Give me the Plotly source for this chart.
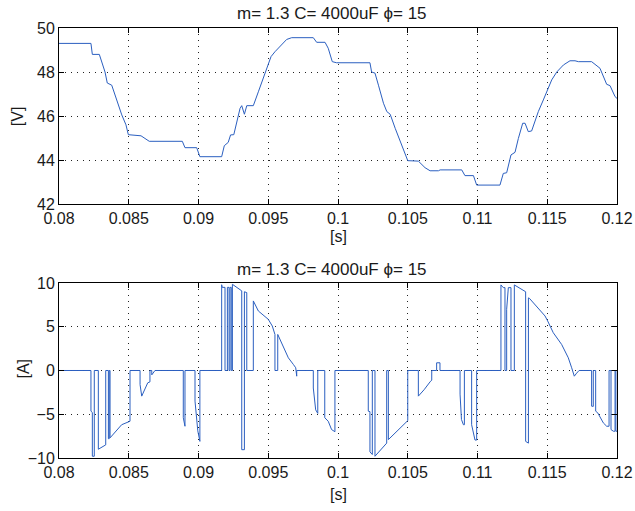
import plotly.graph_objects as go
from plotly.subplots import make_subplots

# Capacitor voltage [V] over time [s]
t_volt = [0.0800, 0.08229, 0.08239, 0.08289, 0.0833, 0.08346, 0.08378, 0.0845, 0.0848,
          0.08497, 0.08588, 0.08647, 0.08884, 0.08903, 0.08987, 0.0901, 0.09166, 0.09185,
          0.09213, 0.0923, 0.09253, 0.09274, 0.09298, 0.0931, 0.09329, 0.09346, 0.09393,
          0.09429, 0.09465, 0.09489, 0.0952, 0.09548, 0.09572, 0.096, 0.09632, 0.09668,
          0.09823, 0.09847, 0.09907, 0.0993, 0.09959, 0.0999, 0.10229, 0.10241, 0.10265,
          0.1029, 0.10326, 0.1035, 0.10374, 0.1041, 0.10446, 0.1047, 0.105, 0.10576,
          0.10624, 0.1066, 0.1072, 0.10732, 0.10887, 0.1091, 0.10971, 0.10994, 0.11161,
          0.11185, 0.11209, 0.1124, 0.11269, 0.11293, 0.11324, 0.11341, 0.11364, 0.11388,
          0.11412, 0.11436, 0.11472, 0.11496, 0.11532, 0.11568, 0.11616, 0.11663, 0.11699,
          0.11723, 0.11818, 0.11878, 0.11926, 0.1195, 0.11986, 0.1200]
volt = [49.3, 49.3, 48.8, 48.8, 48.0, 47.5, 47.4, 46.05, 45.6,
        45.15, 45.1, 44.85, 44.85, 44.56, 44.56, 44.15, 44.15, 44.65,
        44.8, 45.14, 45.15, 45.74, 46.35, 46.47, 46.08, 46.47, 46.47,
        47.1, 47.7, 48.17, 48.7, 48.92, 49.08, 49.3, 49.48, 49.56,
        49.56, 49.35, 49.35, 49.08, 48.47, 48.42, 48.42, 48.0, 47.95,
        47.4, 46.58, 46.2, 46.08, 45.44, 44.83, 44.38, 43.97, 43.95,
        43.65, 43.51, 43.51, 43.55, 43.55, 43.29, 43.29, 42.86, 42.86,
        43.39, 43.42, 44.23, 44.35, 44.98, 45.67, 45.67, 45.29, 45.32,
        45.74, 46.2, 46.73, 47.1, 47.64, 48.0, 48.32, 48.51, 48.51,
        48.47, 48.47, 48.17, 47.44, 47.38, 46.88, 46.8]

# Capacitor current [A] over time [s]
t_curr = [0.0800,
          0.08229, 0.08229, 0.08239, 0.08239, 0.08253, 0.08253,
          0.08282, 0.08282, 0.08335, 0.08335,
          0.08354, 0.08354, 0.0836, 0.0836, 0.08366, 0.08366, 0.08449, 0.08509, 0.08509,
          0.08581, 0.08581, 0.08593, 0.08636, 0.08652, 0.08652, 0.08665, 0.08665, 0.08688,
          0.08891, 0.08891, 0.08903, 0.08903,
          0.08975, 0.08975, 0.08995, 0.0901, 0.0901,
          0.09166, 0.09166, 0.0917, 0.0919, 0.0919, 0.09207, 0.09207, 0.09219, 0.09219,
          0.09226, 0.09226, 0.09235, 0.09235, 0.09243, 0.09243, 0.0931, 0.0931, 0.09329,
          0.09329, 0.09346, 0.09346,
          0.09393, 0.09393, 0.09429, 0.095, 0.09529, 0.09548, 0.09548, 0.09568, 0.09568,
          0.09608, 0.09644, 0.0968, 0.09697, 0.09704, 0.09704,
          0.09823, 0.09823, 0.0984, 0.09855, 0.09855,
          0.09905, 0.09905, 0.0993, 0.09954, 0.09972, 0.09978, 0.09978,
          0.10217, 0.10217, 0.10229, 0.10229, 0.10246, 0.10246, 0.10265, 0.10265, 0.10349,
          0.10349, 0.10361, 0.10361, 0.10421, 0.105, 0.105,
          0.10576, 0.10576, 0.10617, 0.1066, 0.10672, 0.10672, 0.10707, 0.10707, 0.10731,
          0.10731,
          0.10875, 0.10875, 0.10885, 0.10899, 0.10906, 0.10906,
          0.10958, 0.10958, 0.10982, 0.10994, 0.10994,
          0.11168, 0.11168, 0.11185, 0.11197, 0.11197, 0.11209, 0.11209, 0.11221, 0.1124,
          0.1124, 0.11264, 0.11264, 0.11345, 0.11345, 0.11365, 0.11365, 0.11372,
          0.11484, 0.11503, 0.11543, 0.11603, 0.11651, 0.11675, 0.11694, 0.11711, 0.11728,
          0.11818, 0.11818, 0.1183, 0.1183, 0.11847, 0.11847, 0.11862, 0.11902, 0.11926,
          0.11943, 0.11943, 0.11957, 0.11957, 0.11974, 0.11986, 0.11986, 0.11992, 0.11992,
          0.1200]
curr = [0.0,
        0.0, -4.65, -4.8, -9.8, -9.8, 0.0,
        0.0, -9.0, -8.5, 0.0,
        0.0, -7.8, -7.8, 0.0, 0.0, -7.7, -6.2, -5.8, 0.0,
        0.0, -1.6, -2.93, -1.41, -1.3, 0.0, 0.0, -0.5, 0.0,
        0.0, -5.4, -6.37, 0.0,
        0.0, -3.5, -6.9, -8.1, 0.0,
        0.0, 9.8, 9.5, 9.5, 0.0, 0.0, 9.5, 9.5, 0.0,
        0.0, 9.5, 9.5, 0.0, 0.0, 9.85, 9.1, -9.05, -9.05,
        9.0, 8.9, 0.0,
        0.0, 7.95, 6.8, 5.85, 5.08, 4.12, 0.0, 0.0, 4.12,
        2.79, 1.45, 0.69, 0.31, -0.65, 0.0,
        0.0, -2.0, -4.5, -4.9, 0.0,
        0.0, -5.4, -5.8, -6.75, -7.0, -7.0, 0.0,
        0.0, -4.65, -4.7, -9.3, -9.6, 0.0, 0.0, -9.8, -8.3,
        0.0, 0.0, -7.9, -6.94, -5.73, 0.0,
        0.0, -2.93, -2.2, -1.3, -1.1, 0.0, 0.0, 0.88, 0.88,
        0.0,
        0.0, -2.7, -5.6, -6.2, -6.2, 0.0,
        0.0, -6.2, -7.95, -7.95, 0.0,
        0.0, 9.78, 9.47, 9.47, 0.0, 0.0, 7.0, 9.47, 9.47,
        0.0, 0.0, 9.78, 9.0, -8.1, -8.3, 8.3, 8.25,
        6.23, 5.66, 4.32, 2.98, 1.45, 0.31, -0.65, -0.3, 0.0,
        0.0, -4.08, -4.1, 0.0, 0.0, -4.65, -4.84, -5.99, -6.37,
        -6.37, 0.0, 0.0, -6.75, -6.94, -6.94, 0.0, 0.0, -6.94,
        -6.94]

x_ticks = [0.08, 0.085, 0.09, 0.095, 0.1, 0.105, 0.11, 0.115, 0.12]
x_tick_text = ["0.08", "0.085", "0.09", "0.095", "0.1", "0.105", "0.11", "0.115", "0.12"]
v_ticks = [42, 44, 46, 48, 50]
i_ticks = [-10, -5, 0, 5, 10]

title_text = "m= 1.3 C= 4000uF \u03d5= 15"

FONT = "Liberation Sans, Arial, Helvetica, sans-serif"
LINE_BLUE = "#2b5fc0"
TEXT_COLOR = "#1a1a1a"

fig = make_subplots(rows=2, cols=1, vertical_spacing=0.0)

fig.add_trace(go.Scatter(x=t_volt, y=volt, mode="lines",
                         line=dict(color=LINE_BLUE, width=1), showlegend=False),
              row=1, col=1)
fig.add_trace(go.Scatter(x=t_curr, y=curr, mode="lines",
                         line=dict(color=LINE_BLUE, width=1), showlegend=False),
              row=2, col=1)

axis_common = dict(
    automargin=False,
    showline=True, linecolor="#000000", linewidth=1, mirror="allticks",
    ticks="inside", ticklen=5, tickcolor="#000000", tickwidth=1,
    showgrid=True, gridcolor="#222222", gridwidth=1, griddash="1px,5px",
    zeroline=False, tickfont=dict(family=FONT, size=16, color=TEXT_COLOR),
)

fig.update_xaxes(range=[0.08, 0.12], tickvals=x_ticks, ticktext=x_tick_text,
                 **axis_common)
fig.update_yaxes(**axis_common)
fig.update_yaxes(range=[42, 50], tickvals=v_ticks, row=1, col=1)
fig.update_yaxes(range=[-10, 10], tickvals=i_ticks, row=2, col=1)

fig.update_layout(
    template="none",
    width=635, height=511,
    margin=dict(l=59, r=18, t=28, b=53, pad=0),
    paper_bgcolor="#ffffff", plot_bgcolor="#ffffff",
    font=dict(family=FONT, size=16, color=TEXT_COLOR),
    yaxis=dict(domain=[0.5907, 1.0]),
    yaxis2=dict(domain=[0.0, 0.407]),
    xaxis=dict(anchor="y"),
    xaxis2=dict(anchor="y2"),
)

def label(text, x, y, angle=0, size=16):
    fig.add_annotation(text=text, x=x, y=y, xref="paper", yref="paper",
                       xanchor="center", yanchor="middle", showarrow=False,
                       textangle=angle, font=dict(family=FONT, size=size, color=TEXT_COLOR))

label(title_text, 0.49, 1.0326, size=17)
label(title_text, 0.49, 0.4395, size=17)
label("[s]", 0.5, 0.514)
label("[s]", 0.5, -0.086)
label("[V]", -0.0753, 0.795, angle=-90)
label("[A]", -0.0636, 0.207, angle=-90)

fig.write_html("out.html")
